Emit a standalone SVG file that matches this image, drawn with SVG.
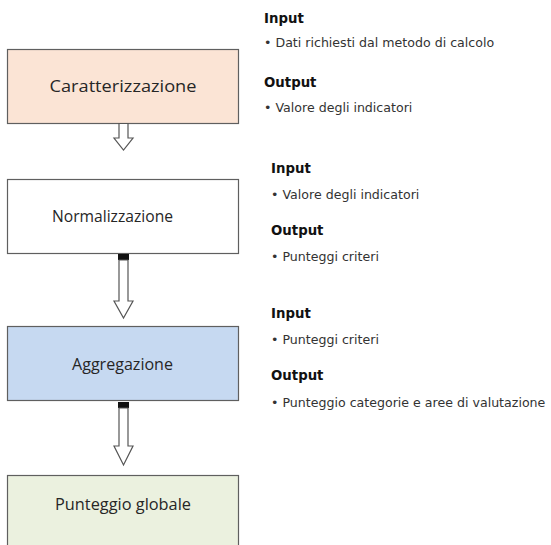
<svg xmlns="http://www.w3.org/2000/svg" width="551" height="545" viewBox="0 0 551 545">
<style>
.box{stroke:#5f5f5f;stroke-width:1.2}
.lbl{font-family:"Open Sans","Liberation Sans",sans-serif;font-size:15.5px;fill:#262626;text-anchor:middle}
.hd{font-family:"DejaVu Sans",Verdana,sans-serif;font-size:13.3px;font-weight:bold;fill:#111}
.bl{font-family:"DejaVu Sans",Verdana,sans-serif;font-size:12.6px;fill:#333}
.arr{fill:#fff;stroke:#555;stroke-width:1.2;stroke-linejoin:miter}
.band{fill:#111}
</style>
<rect width="551" height="545" fill="#fff"/>
<g id="caratterizzazione">
<rect class="box" x="7.5" y="49.5" width="231" height="74" fill="#fbe4d5"/>
<text class="lbl" x="123" y="92" textLength="147" lengthAdjust="spacingAndGlyphs">Caratterizzazione</text>
</g>
<g id="normalizzazione">
<rect class="box" x="7.5" y="179.5" width="231" height="74" fill="#ffffff"/>
<text class="lbl" x="112.5" y="222" textLength="121" lengthAdjust="spacingAndGlyphs">Normalizzazione</text>
</g>
<g id="aggregazione">
<rect class="box" x="7.5" y="326.5" width="231" height="74" fill="#c6d9f1"/>
<text class="lbl" x="122.5" y="370" textLength="101" lengthAdjust="spacingAndGlyphs">Aggregazione</text>
</g>
<g id="punteggio-globale">
<rect class="box" x="7.5" y="475.5" width="231" height="80" fill="#ebf1df"/>
<text class="lbl" x="123" y="510" textLength="136" lengthAdjust="spacingAndGlyphs">Punteggio globale</text>
</g>
<g id="connectors">
<polygon class="arr" points="119,123.5 128,123.5 128,138 133,138 123.5,150 114,138 119,138"/>
<rect class="band" x="118" y="254" width="11" height="6"/>
<polygon class="arr" points="119,260 128,260 128,301 133,301 123.5,318 114,301 119,301"/>
<rect class="band" x="118" y="402" width="11" height="6"/>
<polygon class="arr" points="119,408 128,408 128,446 133,446 123.5,465 114,446 119,446"/>
</g>
<g id="info-1">
<text class="hd" x="264" y="23">Input</text>
<text class="bl" x="264" y="47">• Dati richiesti dal metodo di calcolo</text>
<text class="hd" x="264" y="87">Output</text>
<text class="bl" x="264" y="112">• Valore degli indicatori</text>
</g>
<g id="info-2">
<text class="hd" x="271" y="173">Input</text>
<text class="bl" x="271" y="199">• Valore degli indicatori</text>
<text class="hd" x="271" y="235">Output</text>
<text class="bl" x="271" y="261">• Punteggi criteri</text>
</g>
<g id="info-3">
<text class="hd" x="271" y="318">Input</text>
<text class="bl" x="271" y="344">• Punteggi criteri</text>
<text class="hd" x="271" y="380">Output</text>
<text class="bl" x="271" y="407">• Punteggio categorie e aree di valutazione</text>
</g>
</svg>
